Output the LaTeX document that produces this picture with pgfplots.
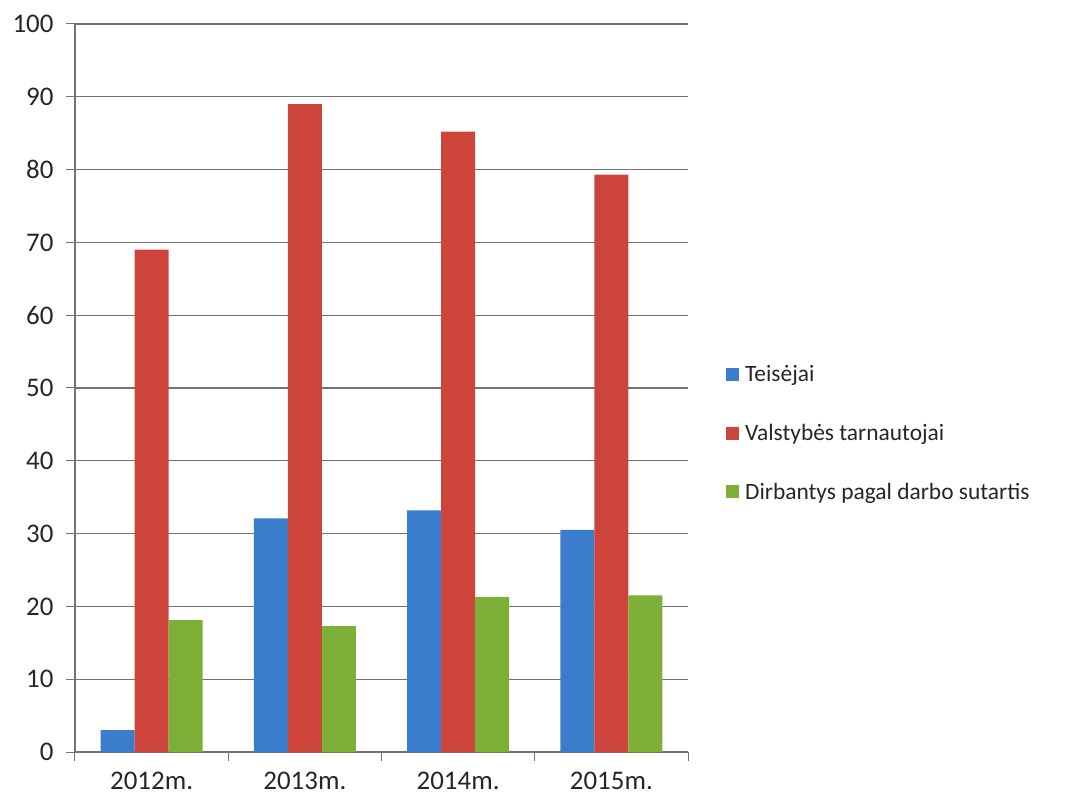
\documentclass[border=0pt]{standalone}
\usepackage{fontspec}
\setmainfont{Carlito}
\usepackage{pgfplots}
\pgfplotsset{compat=1.18}
\definecolor{cblue}{RGB}{58,125,205}
\definecolor{cred}{RGB}{205,68,58}
\definecolor{cgreen}{RGB}{125,176,55}
\definecolor{cgrid}{RGB}{115,115,115}
\begin{document}
\begin{tikzpicture}
\begin{axis}[
    scale only axis,
    width=613bp,
    height=728bp,
    ybar=0pt,
    bar width=34bp,
    xmin=-0.5, xmax=3.5,
    ymin=0, ymax=100,
    ytick={0,10,...,100},
    xtick={0,1,2,3},
    xticklabels={2012m.,2013m.,2014m.,2015m.},
    minor xtick={-0.5,0.5,1.5,2.5,3.5},
    major x tick style={draw=none},
    tick align=outside,
    major tick length=9bp,
    minor tick length=9bp,
    tick style={cgrid, line width=1bp},
    axis x line*=bottom,
    axis y line*=left,
    axis line style={cgrid, line width=1.2bp},
    ymajorgrids,
    grid style={cgrid, line width=1.1bp},
    /pgf/number format/assume math mode=true,
    ticklabel style={font=\fontsize{27}{31}\selectfont, text=black!85},
    xticklabel style={yshift=-8bp},
    yticklabel style={xshift=-9bp},
    legend style={
        at={(1.057,0.438)},
        anchor=west,
        draw=none,
        fill=none,
        font=\fontsize{23.5}{28}\selectfont,
        row sep=37bp,
        text=black!85,
        nodes={inner xsep=6bp},
    },
    legend cell align=left,
    legend image code/.code={\fill[#1] (0bp,-6.5bp) rectangle (13bp,6.5bp);},
]
\addplot[fill=cblue, draw=none] coordinates {(0,3) (1,32.1) (2,33.2) (3,30.5)};
\addplot[fill=cred, draw=none] coordinates {(0,69) (1,89) (2,85.2) (3,79.3)};
\addplot[fill=cgreen, draw=none] coordinates {(0,18.1) (1,17.3) (2,21.3) (3,21.5)};
\legend{Teisėjai, Valstybės tarnautojai, Dirbantys pagal darbo sutartis}
\end{axis}
\useasboundingbox (-75bp,-47bp) rectangle (990bp,752bp);
\end{tikzpicture}
\end{document}
